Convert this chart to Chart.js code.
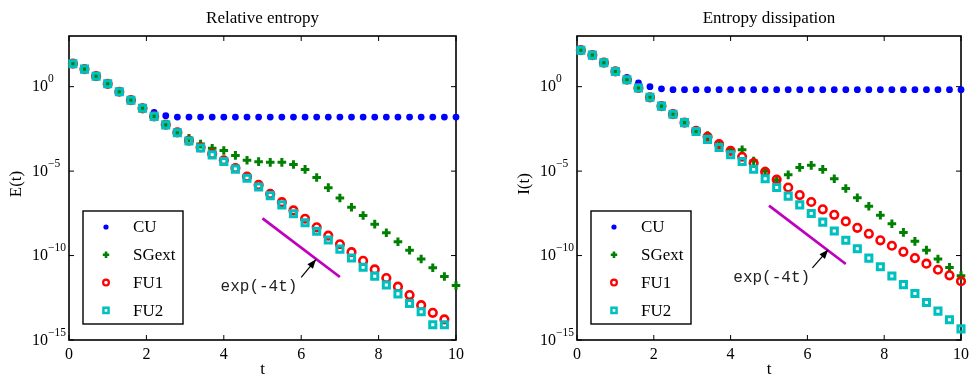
<!DOCTYPE html>
<html>
<head>
<meta charset="utf-8">
<script src="https://cdn.jsdelivr.net/npm/chart.js@4.4.0/dist/chart.umd.min.js"></script>
<style>
  html, body { margin: 0; padding: 0; background: #fff; }
  #wrap { position: relative; width: 974px; height: 376px; }
  canvas { position: absolute; top: 0; }
  #left { left: 0; }
  #right { left: 487px; }
</style>
</head>
<body>
<div id="wrap">
  <canvas id="left" width="487" height="376"></canvas>
  <canvas id="right" width="487" height="376"></canvas>
</div>
<script>
// time samples
const tVals = [0.1, 0.4, 0.7, 1.0, 1.3, 1.6, 1.9, 2.2, 2.5, 2.8, 3.1, 3.4, 3.7, 4.0, 4.3, 4.6, 4.9,
               5.2, 5.5, 5.8, 6.1, 6.4, 6.7, 7.0, 7.3, 7.6, 7.9, 8.2, 8.5, 8.8, 9.1, 9.4, 9.7, 10.0];

// Relative entropy E(t), stored as log10 values
const cuE  = [1.36, 1.04, 0.62, 0.17, -0.30, -0.80, -1.20, -1.52, -1.72, -1.80, -1.80, -1.80, -1.80, -1.80, -1.80, -1.80, -1.80,
              -1.80, -1.80, -1.80, -1.80, -1.80, -1.80, -1.80, -1.80, -1.80, -1.80, -1.80, -1.80, -1.80, -1.80, -1.80, -1.80, -1.80];
const sgE  = [1.36, 1.04, 0.62, 0.17, -0.30, -0.80, -1.28, -1.76, -2.26, -2.73, -3.05, -3.40, -3.65, -3.78, -4.07, -4.36, -4.44,
              -4.48, -4.48, -4.61, -4.90, -5.38, -5.98, -6.59, -7.14, -7.63, -8.14, -8.65, -9.18, -9.69, -10.20, -10.72, -11.24, -11.78];
const fu1E = [1.36, 1.04, 0.62, 0.17, -0.30, -0.80, -1.28, -1.76, -2.25, -2.71, -3.19, -3.60, -3.98, -4.36, -4.82, -5.33, -5.82,
              -6.35, -6.84, -7.33, -7.82, -8.33, -8.82, -9.33, -9.80, -10.31, -10.82, -11.33, -11.84, -12.34, -12.94, -13.39, -13.78, null];
const fu2E = [1.36, 1.04, 0.62, 0.17, -0.30, -0.80, -1.28, -1.76, -2.26, -2.73, -3.22, -3.63, -4.04, -4.43, -4.88, -5.42, -5.94,
              -6.45, -7.00, -7.52, -8.06, -8.56, -9.08, -9.62, -10.14, -10.69, -11.22, -11.74, -12.27, -12.84, -13.33, -14.10, -14.10, null];

// Entropy dissipation I(t), log10 values
const cuI  = [2.16, 1.87, 1.42, 0.92, 0.55, 0.22, 0.00, -0.13, -0.18, -0.18, -0.18, -0.18, -0.18, -0.18, -0.18, -0.18, -0.18,
              -0.18, -0.18, -0.18, -0.18, -0.18, -0.18, -0.18, -0.18, -0.18, -0.18, -0.18, -0.18, -0.18, -0.18, -0.18, -0.18, -0.18];
const sgI  = [2.16, 1.87, 1.42, 0.90, 0.41, -0.08, -0.63, -1.15, -1.63, -2.13, -2.64, -2.90, -3.40, -3.78, -3.74, -4.40, -5.00,
              -5.52, -5.22, -4.78, -4.66, -4.90, -5.45, -6.03, -6.58, -7.08, -7.61, -8.12, -8.63, -9.16, -9.68, -10.20, -10.70, -11.19];
const fu1I = [2.16, 1.87, 1.42, 0.90, 0.41, -0.08, -0.63, -1.15, -1.63, -2.13, -2.62, -2.97, -3.40, -3.80, -4.15, -4.52, -5.04,
              -5.50, -5.97, -6.42, -6.83, -7.26, -7.59, -7.98, -8.36, -8.71, -9.10, -9.42, -9.78, -10.15, -10.48, -10.84, -11.17, -11.52];
const fu2I = [2.16, 1.87, 1.42, 0.90, 0.41, -0.08, -0.63, -1.15, -1.63, -2.13, -2.65, -3.12, -3.60, -4.03, -4.43, -4.89, -5.45,
              -5.97, -6.48, -7.00, -7.51, -8.02, -8.55, -9.09, -9.60, -10.15, -10.66, -11.21, -11.72, -12.25, -12.78, -13.29, -13.80, -14.34];

// exp(-4t) reference segments
const refT = [5, 7];
const refE = [-7.80, -11.27];
const refI = [-7.04, -10.50];

const seriesNames = ['CU', 'SGext', 'FU1', 'FU2'];
const yTickValues = [1, 1e-5, 1e-10, 1e-15];
const yTickExps = ['0', '\u22125', '\u221210', '\u221215'];

const SERIF = '"Liberation Serif", "Times New Roman", serif';

const styles = {
  CU:    { pointStyle: 'circle', pointRadius: 3.4, pointBorderWidth: 0, pointBackgroundColor: '#0000ff', pointBorderColor: '#0000ff', order: 3,
           legend: { r: 2.6, bw: 0 } },
  SGext: { pointStyle: 'cross', pointRadius: 4.3, pointBorderWidth: 3, pointBackgroundColor: '#008000', pointBorderColor: '#008000', order: 2,
           legend: { r: 3.2, bw: 2.6 } },
  FU1:   { pointStyle: 'circle', pointRadius: 3.8, pointBorderWidth: 2.6, pointBackgroundColor: 'rgba(0,0,0,0)', pointBorderColor: '#ff0000', order: 1,
           legend: { r: 2.9, bw: 2.2 } },
  FU2:   { pointStyle: 'rect', pointRadius: 4.3, pointBorderWidth: 3, pointBackgroundColor: 'rgba(0,0,0,0)', pointBorderColor: '#00bfbf', order: 0,
           legend: { r: 3.6, bw: 2.5 } }
};

const toPoints = (vals) => tVals.map((t, i) => ({ x: t, y: vals[i] === null ? null : Math.pow(10, vals[i]) }));

function makeDatasets(series, ref) {
  const sets = seriesNames.map((name, i) => {
    const s = styles[name];
    return {
      label: name,
      data: toPoints(series[i]),
      showLine: false,
      pointStyle: s.pointStyle,
      pointRadius: s.pointRadius,
      pointHoverRadius: s.pointRadius,
      pointBorderWidth: s.pointBorderWidth,
      pointBackgroundColor: s.pointBackgroundColor,
      pointBorderColor: s.pointBorderColor,
      order: s.order,
      clip: false
    };
  });
  sets.push({
    label: 'ref',
    data: refT.map((t, i) => ({ x: t, y: Math.pow(10, ref[i]) })),
    showLine: true,
    borderColor: '#bf00bf',
    borderWidth: 2.8,
    pointRadius: 0,
    order: -1
  });
  return sets;
}

const matlabAxes = {
  id: 'matlabAxes',
  beforeDatasetsDraw(chart, args, o) {
    const { ctx, chartArea: a, scales: { x, y } } = chart;
    ctx.save();
    // inward tick marks
    ctx.strokeStyle = '#000';
    ctx.lineWidth = 1;
    ctx.beginPath();
    x.ticks.forEach(tk => {
      const px = x.getPixelForValue(tk.value);
      ctx.moveTo(px, a.bottom); ctx.lineTo(px, a.bottom - 5);
      ctx.moveTo(px, a.top); ctx.lineTo(px, a.top + 5);
    });
    yTickValues.forEach(v => {
      const py = y.getPixelForValue(v);
      ctx.moveTo(a.left, py); ctx.lineTo(a.left + 5, py);
      ctx.moveTo(a.right, py); ctx.lineTo(a.right - 5, py);
    });
    ctx.stroke();
    // box
    ctx.lineWidth = 1.6;
    ctx.strokeRect(a.left, a.top, a.right - a.left, a.bottom - a.top);

    // y tick labels 10^n
    ctx.fillStyle = '#000';
    ctx.textBaseline = 'middle';
    yTickValues.forEach((v, i) => {
      const py = y.getPixelForValue(v);
      ctx.font = '16px ' + SERIF;
      ctx.textAlign = 'right';
      ctx.fillText('10', a.left - 21, py + 0.5);
      ctx.font = '11.5px ' + SERIF;
      ctx.textAlign = 'left';
      ctx.fillText(yTickExps[i], a.left - 21, py - 7.5);
    });

    // title and axis labels
    const cx = (a.left + a.right) / 2;
    ctx.font = '17px ' + SERIF;
    ctx.textAlign = 'center';
    ctx.textBaseline = 'alphabetic';
    ctx.fillText(o.title, cx, 22.5);
    ctx.fillText('t', cx, 374);
    ctx.save();
    ctx.translate(a.left - 48, 184);
    ctx.rotate(-Math.PI / 2);
    ctx.fillText(o.ylabel, 0, 0);
    ctx.restore();
    ctx.restore();
  },
  afterDatasetsDraw(chart, args, o) {
    const { ctx, chartArea: a, scales: { x, y } } = chart;
    ctx.save();
    // annotation: exp(-4t) with arrow
    const n = o.note;
    const tx = x.getPixelForValue(n.tail[0]), ty = y.getPixelForValue(Math.pow(10, n.tail[1]));
    const hx = x.getPixelForValue(n.head[0]), hy = y.getPixelForValue(Math.pow(10, n.head[1]));
    ctx.strokeStyle = '#000';
    ctx.fillStyle = '#000';
    ctx.lineWidth = 1.2;
    ctx.beginPath();
    ctx.moveTo(tx, ty); ctx.lineTo(hx, hy);
    ctx.stroke();
    const ang = Math.atan2(hy - ty, hx - tx);
    const L = 9, W = 3.6;
    ctx.beginPath();
    ctx.moveTo(hx, hy);
    ctx.lineTo(hx - L * Math.cos(ang) + W * Math.sin(ang), hy - L * Math.sin(ang) - W * Math.cos(ang));
    ctx.lineTo(hx - L * Math.cos(ang) - W * Math.sin(ang), hy - L * Math.sin(ang) + W * Math.cos(ang));
    ctx.closePath();
    ctx.fill();
    ctx.font = '16px "Liberation Mono", "Courier New", monospace';
    ctx.fillStyle = '#222';
    ctx.textAlign = 'center';
    ctx.textBaseline = 'middle';
    ctx.fillText('exp(-4t)', x.getPixelForValue(n.text[0]), y.getPixelForValue(Math.pow(10, n.text[1])));

    // legend box
    const bx = a.left + 14, by = a.top + 175, bw = 100, bh = 113;
    ctx.fillStyle = '#fff';
    ctx.fillRect(bx, by, bw, bh);
    ctx.strokeStyle = '#000';
    ctx.lineWidth = 1.4;
    ctx.strokeRect(bx, by, bw, bh);
    seriesNames.forEach((name, i) => {
      const s = styles[name];
      const my = by + 16 + 27.8 * i;
      ctx.save();
      ctx.fillStyle = s.pointBackgroundColor;
      ctx.strokeStyle = s.pointBorderColor;
      ctx.lineWidth = s.legend.bw;
      Chart.helpers.drawPoint(ctx, { pointStyle: s.pointStyle, radius: s.legend.r, rotation: 0, borderWidth: s.legend.bw }, bx + 23, my);
      ctx.restore();
      ctx.fillStyle = '#000';
      ctx.font = '17px ' + SERIF;
      ctx.textAlign = 'left';
      ctx.textBaseline = 'middle';
      ctx.fillText(name, bx + 50, my + 1);
    });
    ctx.restore();
  }
};

function makeChart(id, series, ref, yWidth, padRight, title, ylabel, note) {
  return new Chart(document.getElementById(id), {
    type: 'scatter',
    data: { datasets: makeDatasets(series, ref) },
    plugins: [matlabAxes],
    options: {
      responsive: false,
      animation: false,
      events: [],
      layout: { padding: { top: 36, right: padRight, bottom: 0, left: 0 } },
      plugins: {
        legend: { display: false },
        tooltip: { enabled: false },
        matlabAxes: { title: title, ylabel: ylabel, note: note }
      },
      scales: {
        x: {
          type: 'linear', min: 0, max: 10,
          grid: { display: false, drawTicks: false },
          border: { display: false },
          ticks: { stepSize: 2, color: '#000', padding: 5, maxRotation: 0,
                   font: { family: SERIF, size: 16 } },
          afterFit: s => { s.height = 36; }
        },
        y: {
          type: 'logarithmic', min: 1e-15, max: 1e3,
          grid: { display: false, drawTicks: false },
          border: { display: false },
          ticks: { display: false },
          afterFit: s => { s.width = yWidth; }
        }
      }
    }
  });
}

makeChart('left', [cuE, sgE, fu1E, fu2E], refE, 69, 31, 'Relative entropy', 'E(t)',
          { text: [4.91, -11.84], tail: [6.0, -11.29], head: [6.38, -10.24] });
makeChart('right', [cuI, sgI, fu1I, fu2I], refI, 90, 10, 'Entropy dissipation', 'I(t)',
          { text: [5.07, -11.30], tail: [6.13, -10.73], head: [6.54, -9.66] });
</script>
</body>
</html>
